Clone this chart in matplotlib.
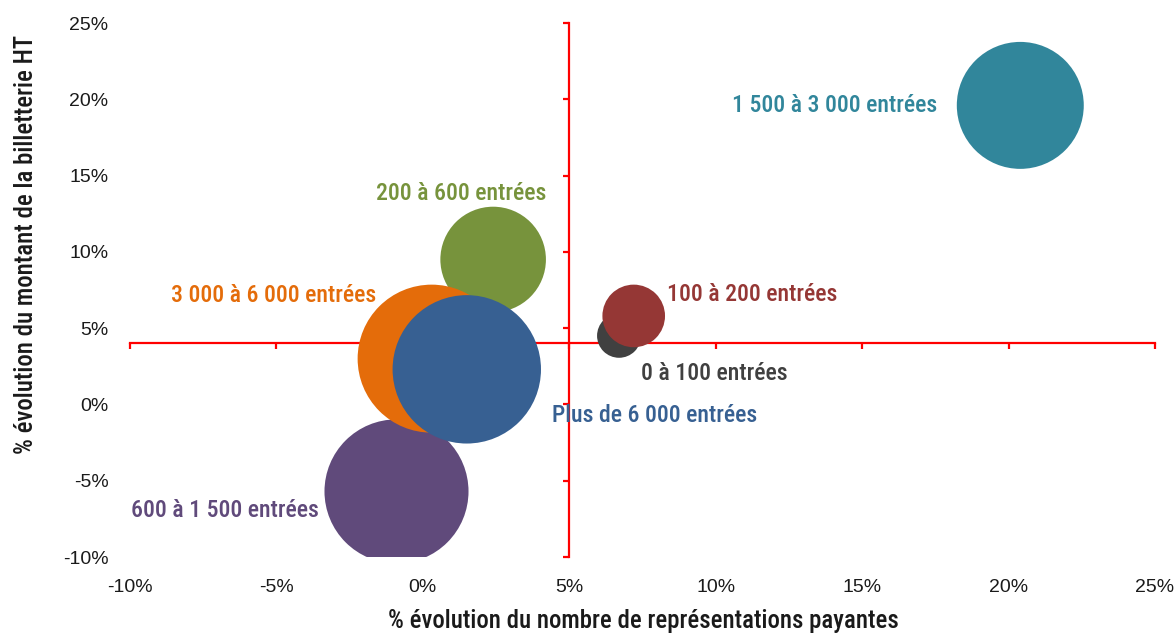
import matplotlib
matplotlib.use("Agg")
import matplotlib.pyplot as plt
from matplotlib import font_manager
from matplotlib.font_manager import FontProperties
import numpy as np

# ---- data ----
categories = ["0 à 100 entrées", "100 à 200 entrées", "200 à 600 entrées",
              "600 à 1 500 entrées", "1 500 à 3 000 entrées",
              "3 000 à 6 000 entrées", "Plus de 6 000 entrées"]
x_values = [6.7, 7.2, 2.4, -0.9, 20.4, 0.3, 1.5]      # % évolution représentations
y_values = [4.5, 5.8, 9.5, -5.7, 19.6, 3.0, 2.3]      # % évolution billetterie
bubble_sizes = [8.8, 17.8, 50.6, 94.2, 73.2, 99.5, 100.0]  # relative area
colors = ["#404040", "#953735", "#77933C", "#604A7B", "#31869B", "#E46C0A", "#376092"]

x_ticks = [-10, -5, 0, 5, 10, 15, 20, 25]
y_ticks = [-10, -5, 0, 5, 10, 15, 20, 25]
x_cross = 5
y_cross = 4

# label positions (data coords) and alignment
label_pos = [(7.45, 2.05, "left"), (8.35, 7.2, "left"), (1.3, 13.8, "center"),
             (-3.55, -6.95, "right"), (17.55, 19.6, "right"),
             (-1.6, 7.15, "right"), (4.4, -0.7, "left")]

# pick a narrow font if one is installed (prefer medium weight), else Liberation Sans
narrow_names = ("Liberation Sans Narrow", "Roboto Condensed", "Open Sans Condensed", "Arial Narrow")


def find_narrow(weights):
    for w in weights:
        for name in narrow_names:
            for f in font_manager.fontManager.ttflist:
                if f.name == name and f.weight == w and f.style == "normal":
                    return f.fname
    return None


narrow_fp = find_narrow([500, "medium", 600, "semibold", 700, "bold"])
if narrow_fp:
    label_font = dict(fontproperties=FontProperties(fname=narrow_fp, size=17.1))
    title_font = dict(fontproperties=FontProperties(fname=narrow_fp, size=17.8))
else:
    label_font = dict(family=["Liberation Sans", "DejaVu Sans"], fontsize=15, fontweight="bold")
    title_font = dict(family=["Liberation Sans", "DejaVu Sans"], fontsize=14.7, fontweight="bold")

plt.rcParams['font.family'] = ["Liberation Sans", 'DejaVu Sans']

W, H, DPI = 1176, 635, 100
fig = plt.figure(figsize=(W / DPI, H / DPI), dpi=DPI)
rect = [130 / W, 1 - 557 / H, (1155 - 130) / W, (557 - 23) / H]
ax = fig.add_axes(rect)
ax.set_xlim(-10, 25)
ax.set_ylim(-10, 25)

# bubbles: max radius ~74 px
max_r_px = 74.2
r_px = [max_r_px * np.sqrt(s / max(bubble_sizes)) for s in bubble_sizes]
for xv, yv, r, c in zip(x_values, y_values, r_px, colors):
    d_pt = 2 * r * 72 / DPI
    ax.scatter([xv], [yv], s=d_pt ** 2, color=c, edgecolors="none", zorder=3)

# crossing axes in red
for side in ["top", "right"]:
    ax.spines[side].set_visible(False)
ax.spines["left"].set_position(("data", x_cross))
ax.spines["bottom"].set_position(("data", y_cross))
for side in ["left", "bottom"]:
    ax.spines[side].set_color("#FF0000")
    ax.spines[side].set_linewidth(1.6)
    ax.spines[side].set_zorder(2)
ax.set_xticks(x_ticks)
ax.set_yticks(y_ticks)
ax.tick_params(axis="both", direction="out", length=4.5, width=1.6, color="#FF0000",
               labelbottom=False, labelleft=False)

# tick labels at the bottom/left of the plot area
ax2 = fig.add_axes(rect, sharex=ax, sharey=ax)
ax2.patch.set_visible(False)
for s in ax2.spines.values():
    s.set_visible(False)
ax2.set_xticks(x_ticks)
ax2.set_yticks(y_ticks)
ax2.set_xticklabels([f"{t}%" for t in x_ticks])
ax2.set_yticklabels([f"{t}%" for t in y_ticks])
ax2.tick_params(axis="both", length=0, labelsize=14, labelcolor="#1a1a1a")
ax2.tick_params(axis="x", pad=15.5)
ax2.tick_params(axis="y", pad=15.5)

# bubble labels
for (lx, ly, ha), txt, c in zip(label_pos, categories, colors):
    ax.text(lx, ly, txt, color=c, ha=ha, va="center", zorder=4, **label_font)

fig.text(643 / W, 1 - 621 / H, "% évolution du nombre de représentations payantes",
         ha="center", va="center", color="#1a1a1a", **title_font)
fig.text(26 / W, 1 - 245 / H, "% évolution du montant de la billetterie HT",
         ha="center", va="center", rotation=90, color="#1a1a1a", **title_font)

fig.savefig("out.png", dpi=DPI)
